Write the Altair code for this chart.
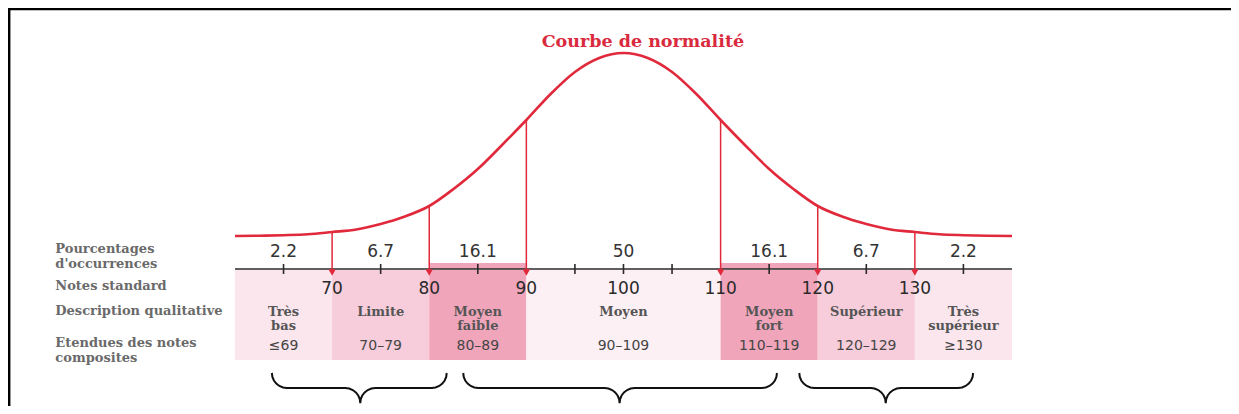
import altair as alt
import pandas as pd
import math

# ---------------- data ----------------
# normal curve: score -> height above the score axis (approx. pixels)
curve_score = [60, 62.5, 65, 67.5, 70, 72.5, 75, 77.5, 80, 82.5, 85, 87.5, 90, 92.5, 95, 97.5,
               100, 102.5, 105, 107.5, 110, 112.5, 115, 117.5, 120, 122.5, 125, 127.5, 130,
               132.5, 135, 137.5, 140]
curve_height = [33, 33.3, 33.8, 34.7, 37, 39.5, 45, 52.5, 63, 80, 100, 124, 149, 175, 197, 211,
                216, 211, 197, 175, 149, 124, 100, 80, 63, 52.5, 45, 39.5, 37, 34.7, 33.8, 33.3, 33]

cut_scores = [70, 80, 90, 110, 120, 130]
cut_curve_height = [37, 63, 149, 149, 63, 37]

tick_scores = [65, 75, 85, 95, 100, 105, 115, 125, 135]

pct_scores = [65, 75, 85, 100, 115, 125, 135]
pct_labels = ["2.2", "6.7", "16.1", "50", "16.1", "6.7", "2.2"]

std_scores = [70, 80, 90, 100, 110, 120, 130]

band_start = [60, 70, 80, 90, 110, 120, 130]
band_end = [70, 80, 90, 110, 120, 130, 140]
band_shade = ["pale", "mid", "strong", "faint", "strong", "mid", "pale"]
band_desc = ["Très\nbas", "Limite", "Moyen\nfaible", "Moyen", "Moyen\nfort", "Supérieur",
             "Très\nsupérieur"]
band_range = ["≤69", "70–79", "80–89", "90–109", "110–119", "120–129", "≥130"]

row_labels = ["Pourcentages\nd'occurrences", "Notes standard", "Description qualitative",
              "Etendues des notes\ncomposites"]

title_text = "Courbe de normalité"
title_score = 102.0

brace_start = [63.8, 83.5, 118.1]
brace_tip = [72.9, 99.6, 127.0]
brace_end = [81.8, 115.8, 136.0]

axis_start, axis_end = 60, 140

# ---------------- layout constants ----------------
XMIN, XMAX = 36.63, 162.55
YMIN, YMAX = -137, 261
W, H = 1223, 398
PX = W / (XMAX - XMIN)

Y_PCT, Y_STD, Y_DESC, Y_RANGE, Y_TITLE = 17, -20, -43, -77, 227
ROW_Y = [20, -17, -42, -74]
BAND_TOP, BAND_BOTTOM = -1, -91
LABEL_X = 41.5

RED = "#e02a3c"
xs = alt.Scale(domain=[XMIN, XMAX], nice=False, zero=False)
ys = alt.Scale(domain=[YMIN, YMAX], nice=False, zero=False)


def X(f):
    return alt.X(f, type="quantitative", scale=xs, axis=None)


def Y(f):
    return alt.Y(f, type="quantitative", scale=ys, axis=None)


bands = pd.DataFrame({"x0": band_start, "x1": band_end, "shade": band_shade,
                      "desc": band_desc, "rng": band_range})
bands["mid"] = (bands["x0"] + bands["x1"]) / 2
bands["top"] = BAND_TOP
bands["bot"] = BAND_BOTTOM
bands["ydesc"] = Y_DESC
bands["yrange"] = Y_RANGE

shade_scale = alt.Scale(domain=["pale", "mid", "strong", "faint"],
                        range=["#fbe6ee", "#f7cddb", "#f0a5bb", "#fdf0f5"])

band_layer = alt.Chart(bands).mark_rect().encode(
    x=X("x0"), x2="x1", y=Y("top"), y2="bot",
    color=alt.Color("shade:N", scale=shade_scale, legend=None))

strips = bands[bands["shade"] == "strong"].copy()
strips["top"] = 6
strips["bot"] = 0
strip_layer = alt.Chart(strips).mark_rect().encode(
    x=X("x0"), x2="x1", y=Y("top"), y2="bot",
    color=alt.Color("shade:N", scale=shade_scale, legend=None))

axis_df = pd.DataFrame({"x0": [axis_start], "x1": [axis_end], "y": [0]})
axis_layer = alt.Chart(axis_df).mark_rule(color="#2a2a2a", strokeWidth=1.6).encode(
    x=X("x0"), x2="x1", y=Y("y"))

ticks = pd.DataFrame({"x": tick_scores, "t": 5, "b": -5})
tick_layer = alt.Chart(ticks).mark_rule(color="#2a2a2a", strokeWidth=1.6).encode(
    x=X("x"), y=Y("t"), y2="b")

curve = pd.DataFrame({"x": curve_score, "y": curve_height})
curve_layer = alt.Chart(curve).mark_line(color=RED, strokeWidth=2.6,
                                         interpolate="monotone").encode(x=X("x"), y=Y("y"))

cuts = pd.DataFrame({"x": cut_scores, "top": cut_curve_height, "bot": -2, "head": -3.5})
arrow_layer = alt.Chart(cuts).mark_rule(color=RED, strokeWidth=1.5).encode(
    x=X("x"), y=Y("top"), y2="bot")
head_layer = alt.Chart(cuts).mark_point(shape="triangle-down", filled=True, color=RED,
                                        size=55, opacity=1).encode(x=X("x"), y=Y("head"))

pct = pd.DataFrame({"x": pct_scores, "lab": pct_labels, "y": Y_PCT})
pct_layer = alt.Chart(pct).mark_text(font="DejaVu Sans", fontSize=17, color="#333333",
                                     baseline="middle").encode(x=X("x"), y=Y("y"), text="lab")

std = pd.DataFrame({"x": std_scores, "lab": [str(s) for s in std_scores], "y": Y_STD})
std_layer = alt.Chart(std).mark_text(font="DejaVu Sans", fontSize=17, color="#2a2a2a",
                                     baseline="middle").encode(x=X("x"), y=Y("y"), text="lab")

desc_layer = alt.Chart(bands).mark_text(font="DejaVu Serif", fontSize=13, fontWeight="bold",
                                        color="#555555", baseline="middle", lineBreak="\n",
                                        lineHeight=14).encode(
    x=X("mid"), y=Y("ydesc"), text="desc")
range_layer = alt.Chart(bands).mark_text(font="DejaVu Sans", fontSize=14, color="#454545",
                                         baseline="middle").encode(
    x=X("mid"), y=Y("yrange"), text="rng")

rows = pd.DataFrame({"lab": row_labels, "y": ROW_Y, "x": LABEL_X})
row_layer = alt.Chart(rows).mark_text(font="DejaVu Serif", fontSize=13, fontWeight="bold",
                                      color="#6a6a6a", align="left", baseline="middle",
                                      lineBreak="\n", lineHeight=14.5).encode(
    x=X("x"), y=Y("y"), text="lab")

title_df = pd.DataFrame({"x": [title_score], "y": [Y_TITLE], "t": [title_text]})
title_layer = alt.Chart(title_df).mark_text(font="DejaVu Serif", fontSize=17.5, fontWeight="bold",
                                            color="#d92a3e", baseline="middle").encode(
    x=X("x"), y=Y("y"), text="t")

# braces (shape built from the brace spans)
rx = 15 / PX
ry = 15.0
M = -119.0
rows_b = []
angles = [0, 15, 30, 45, 60, 75, 90]
for i, (a, c, b) in enumerate(zip(brace_start, brace_tip, brace_end)):
    pts = []
    for d in angles:
        t = math.radians(180 + d)
        pts.append((a + rx + rx * math.cos(t), M + ry + ry * math.sin(t)))
    for d in angles:
        t = math.radians(90 - d)
        pts.append((c - rx + rx * math.cos(t), M - ry + ry * math.sin(t)))
    for d in angles:
        t = math.radians(180 - d)
        pts.append((c + rx + rx * math.cos(t), M - ry + ry * math.sin(t)))
    for d in angles:
        t = math.radians(270 + d)
        pts.append((b - rx + rx * math.cos(t), M + ry + ry * math.sin(t)))
    for k, (px, py) in enumerate(pts):
        rows_b.append({"id": i, "o": k, "x": px, "y": py})
braces = pd.DataFrame(rows_b)
brace_layer = alt.Chart(braces).mark_line(color="#111111", strokeWidth=2).encode(
    x=X("x"), y=Y("y"), detail="id:N", order="o:Q")

# frame (top and left edges)
frame = pd.DataFrame({"x0": [XMIN + 0.12, XMIN + 0.12], "x1": [XMAX, XMIN + 0.12],
                      "y0": [260, 261], "y1": [260, YMIN]})
frame_layer = alt.Chart(frame).mark_rule(color="#000000", strokeWidth=2.5).encode(
    x=X("x0"), x2="x1", y=Y("y0"), y2="y1")

chart = alt.layer(
    band_layer, strip_layer, axis_layer, tick_layer, curve_layer, arrow_layer, head_layer,
    pct_layer, std_layer, desc_layer, range_layer, row_layer, title_layer, brace_layer,
    frame_layer
).properties(width=W, height=H, autosize=alt.AutoSizeParams(type="none"), padding=0,
             background="white").configure_view(stroke=None)

chart.save("out.html", embed_options={"renderer": "svg", "actions": False})
